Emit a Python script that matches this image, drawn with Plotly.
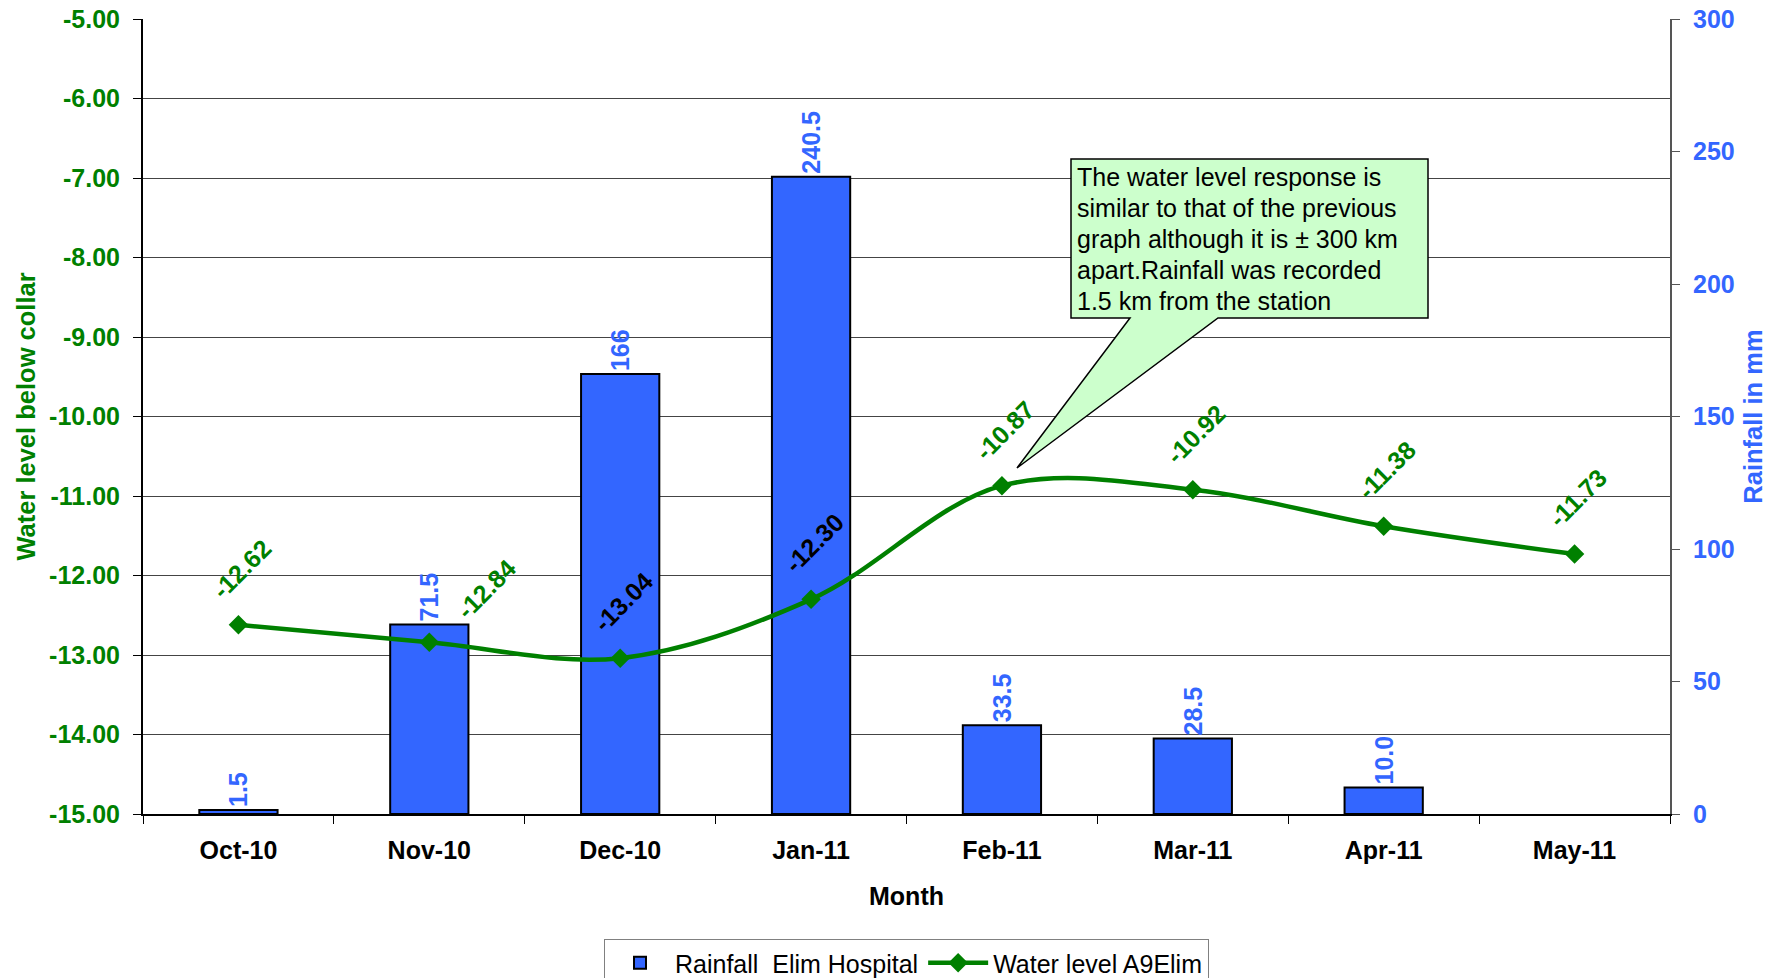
import plotly.graph_objects as go

# ---------------- data ----------------
months = ["Oct-10", "Nov-10", "Dec-10", "Jan-11", "Feb-11", "Mar-11", "Apr-11", "May-11"]
rainfall_mm = [1.5, 71.5, 166, 240.5, 33.5, 28.5, 10.0, None]
rainfall_labels = ["1.5", "71.5", "166", "240.5", "33.5", "28.5", "10.0", ""]
water_level = [-12.62, -12.84, -13.04, -12.30, -10.87, -10.92, -11.38, -11.73]
water_ticks = [-15, -14, -13, -12, -11, -10, -9, -8, -7, -6, -5]
water_tick_labels = ["-15.00", "-14.00", "-13.00", "-12.00", "-11.00", "-10.00",
                     "-9.00", "-8.00", "-7.00", "-6.00", "-5.00"]
rain_ticks = [0, 50, 100, 150, 200, 250, 300]
callout_lines = ["The water level response is",
                 "similar to that of the previous",
                 "graph although it is \u00b1 300 km",
                 "apart.Rainfall was recorded",
                 "1.5 km from the station"]

# ---------------- style ----------------
FONT = "Liberation Sans, Arial, Helvetica, sans-serif"
GREEN = "#008000"
BLUE = "#3366FF"
FS = 25
W, H = 1783, 978
L, R, T, B = 143, 113, 19, 164
PW, PH = W - L - R, H - T - B

label_color_override = {"Dec-10": "black", "Jan-11": "black"}
label_shift_override = {"Nov-10": (57, 53)}


def px(x):
    return (x - L) / PW


def py(y):
    return (H - B - y) / PH


fig = go.Figure()

fig.add_trace(go.Bar(
    x=months, y=rainfall_mm, name="Rainfall\u00a0 Elim Hospital",
    marker=dict(color=BLUE, line=dict(color="black", width=2)),
    width=0.41, text=rainfall_labels, textposition="outside", textangle=-90,
    constraintext="none", cliponaxis=False,
    textfont=dict(family=FONT, size=FS, color=BLUE, weight="bold"),
    yaxis="y", hoverinfo="skip",
))

fig.add_trace(go.Scatter(
    x=months, y=water_level, name="Water level A9Elim", yaxis="y2",
    mode="lines+markers",
    line=dict(color=GREEN, width=4.5, shape="spline", smoothing=1.0),
    marker=dict(symbol="diamond", size=15, color=GREEN),
    cliponaxis=False, hoverinfo="skip",
))

annotations = []
for m, v in zip(months, water_level):
    dx, dy = label_shift_override.get(m, (3, 56))
    annotations.append(dict(
        x=m, y=v, xref="x", yref="y2", text=f"{v:.2f}", showarrow=False,
        textangle=-45, xanchor="center", yanchor="middle", xshift=dx, yshift=dy,
        font=dict(family=FONT, size=FS, color=label_color_override.get(m, GREEN), weight="bold"),
    ))

for i, line_text in enumerate(callout_lines):
    annotations.append(dict(
        x=px(1075), y=py(177 + 31 * i), xref="paper", yref="paper", text=line_text,
        showarrow=False, xanchor="left", yanchor="middle", align="left",
        font=dict(family=FONT, size=FS, color="black"),
    ))

# callout box with pointer
pts = [(1071, 159), (1428, 159), (1428, 318), (1218, 318), (1017, 468), (1130, 318), (1071, 318)]
path = "M " + " L ".join(f"{px(a):.5f},{py(b):.5f}" for a, b in pts) + " Z"
shapes = [dict(type="path", path=path, xref="paper", yref="paper",
               fillcolor="#CCFFCC", line=dict(color="black", width=1.5), layer="above")]

fig.update_layout(
    width=W, height=H,
    margin=dict(l=L, r=R, t=T, b=B, autoexpand=False),
    paper_bgcolor="white", plot_bgcolor="white",
    font=dict(family=FONT, size=FS, color="black"),
    showlegend=True,
    legend=dict(orientation="h", x=0.5, y=py(939), xanchor="center", yanchor="top",
                bordercolor="#808080", borderwidth=1, bgcolor="white",
                font=dict(family=FONT, size=FS, color="black"),
                itemwidth=60, traceorder="normal"),
    xaxis=dict(
        type="category", range=[-0.5, 7.5], showline=True, linecolor="black", linewidth=2,
        ticks="outside", ticklen=8, tickcolor="black", tickson="boundaries",
        tickfont=dict(family=FONT, size=FS, color="black", weight="bold"),
        ticklabelstandoff=13, showgrid=False,
        title=dict(text="Month", font=dict(family=FONT, size=FS, color="black", weight="bold"),
                   standoff=24),
    ),
    yaxis=dict(
        range=[0, 300], tickvals=rain_ticks, side="right", showgrid=False, zeroline=False,
        showline=True, linecolor="#555555", linewidth=2,
        ticks="outside", ticklen=8, tickcolor="#555555",
        tickfont=dict(family=FONT, size=FS, color=BLUE, weight="bold"),
        ticklabelstandoff=8,
        title=dict(text="Rainfall in mm", font=dict(family=FONT, size=25.5, color=BLUE, weight="bold"),
                   standoff=10),
    ),
    yaxis2=dict(
        range=[-15, -5], tickvals=water_ticks, ticktext=water_tick_labels, side="left", overlaying="y",
        showgrid=True, gridcolor="#444444", gridwidth=1, zeroline=False,
        showline=True, linecolor="black", linewidth=2,
        ticks="outside", ticklen=8, tickcolor="black",
        tickfont=dict(family=FONT, size=FS, color=GREEN, weight="bold"),
        ticklabelstandoff=8,
        title=dict(text="Water level below collar",
                   font=dict(family=FONT, size=25.5, color=GREEN, weight="bold"), standoff=6),
    ),
    annotations=annotations,
    shapes=shapes,
)

fig.write_html("out.html")
